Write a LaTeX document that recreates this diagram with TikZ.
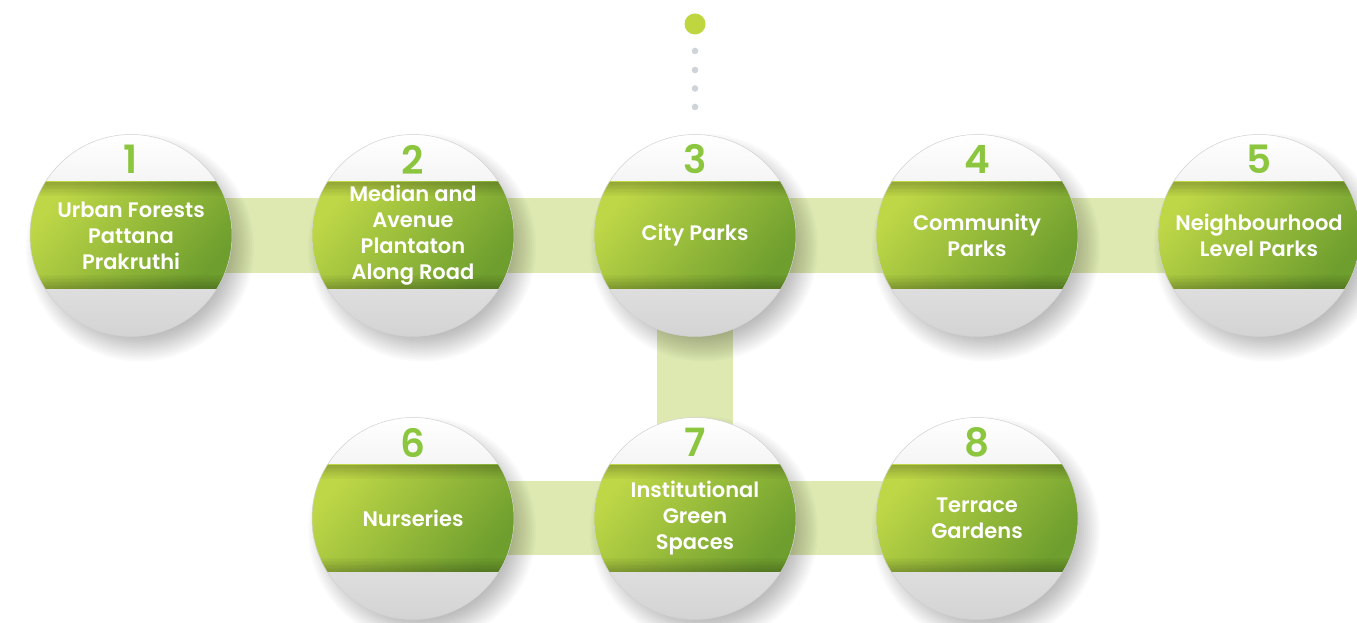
\documentclass[tikz,border=0pt]{standalone}
\usepackage{fontspec}
\setmainfont{Poppins}[BoldFont={Poppins SemiBold}]
\usetikzlibrary{calc}
\definecolor{gL}{HTML}{BED747}
\definecolor{gR}{HTML}{6E9E2E}
\definecolor{conn}{HTML}{DDE9B1}
\definecolor{numc}{HTML}{8CC63F}
\definecolor{dotg}{HTML}{CFD4D9}
\definecolor{dotl}{HTML}{BFD641}
\pgfdeclarelayer{bg}
\pgfdeclarelayer{sh}
\pgfsetlayers{bg,sh,main}
\tikzset{
 disc/.style={circle, minimum size=202pt, inner sep=0pt, draw=black!18, line width=0.5pt,
   top color=white, bottom color=black!17,
   path picture={
     \coordinate (pc) at (path picture bounding box.center);
     \shade[top color=gL, bottom color=gR, shading angle=50] ($(pc)+(-105pt,-53.5pt)$) rectangle ($(pc)+(105pt,53.5pt)$);
     \foreach \k in {0,...,9} {
       \fill[black, opacity={0.045*(10-\k)/2}] ($(pc)+(-105pt,53.5pt-1.4pt*\k)$) rectangle ($(pc)+(105pt,53.5pt-1.4pt*\k-1.4pt)$);
       \fill[black, opacity={0.045*(10-\k)/2}] ($(pc)+(-105pt,-53.5pt+1.4pt*\k)$) rectangle ($(pc)+(105pt,-53.5pt+1.4pt*\k+1.4pt)$);
     }
   },
   text=white, font=\bfseries\fontsize{21}{26}\selectfont, align=center},
 num/.style={text=numc, font=\bfseries\fontsize{39}{40}\selectfont, inner sep=0pt},
 link/.style={draw=conn, line width=75pt},
 dot/.style={circle, fill=dotg, inner sep=0pt, minimum size=6.6pt},
}
\begin{document}
\begin{tikzpicture}[x=1pt,y=1pt]
\useasboundingbox (0,0) rectangle (1357,623);
% dots
\node[circle, fill=dotl, inner sep=0pt, minimum size=21pt] (d0) at (695,599) {};
\node[dot] (d1) at (695,572) {};
\node[dot] (d2) at (695,553) {};
\node[dot] (d3) at (695,534.5) {};
\node[dot] (d4) at (695,516) {};
% circles
\node[disc] (c1) at (131,387.5) {Urban Forests\\Pattana\\Prakruthi};
\node[disc] (c2) at (413,387.5) {Median and\\Avenue\\Plantaton\\Along Road};
\node[disc] (c3) at (695,387.5) {City Parks};
\node[disc] (c4) at (977,387.5) {Community\\Parks};
\node[disc] (c5) at (1259,387.5) {Neighbourhood\\Level Parks};
\node[disc] (c6) at (413,104.5) {Nurseries};
\node[disc] (c7) at (695,104.5) {Institutional\\Green\\Spaces};
\node[disc] (c8) at (977,104.5) {Terrace\\Gardens};
% numbers
\foreach \i in {1,...,8} {
  \node[num] (n\i) at ($(c\i.center)+(0,76)$) {\i};
}
% soft shadows
\begin{pgfonlayer}{sh}
\foreach \i in {1,...,8} {
  \foreach \r in {88,90,...,114} {
    \fill[black, opacity=0.018] ($(c\i.center)+(9,-12)$) circle (\r);
  }
}
\end{pgfonlayer}
% connectors
\begin{pgfonlayer}{bg}
\fill[white] (0,0) rectangle (1357,623);
\draw[link] (c1.center) -- (c2.center);
\draw[link] (c2.center) -- (c3.center);
\draw[link] (c3.center) -- (c4.center);
\draw[link] (c4.center) -- (c5.center);
\draw[link, line width=76pt] (c3.center) -- (c7.center);
\draw[link, line width=74pt] (c6.center) -- (c7.center);
\draw[link, line width=74pt] (c7.center) -- (c8.center);
\end{pgfonlayer}
\end{tikzpicture}
\end{document}
